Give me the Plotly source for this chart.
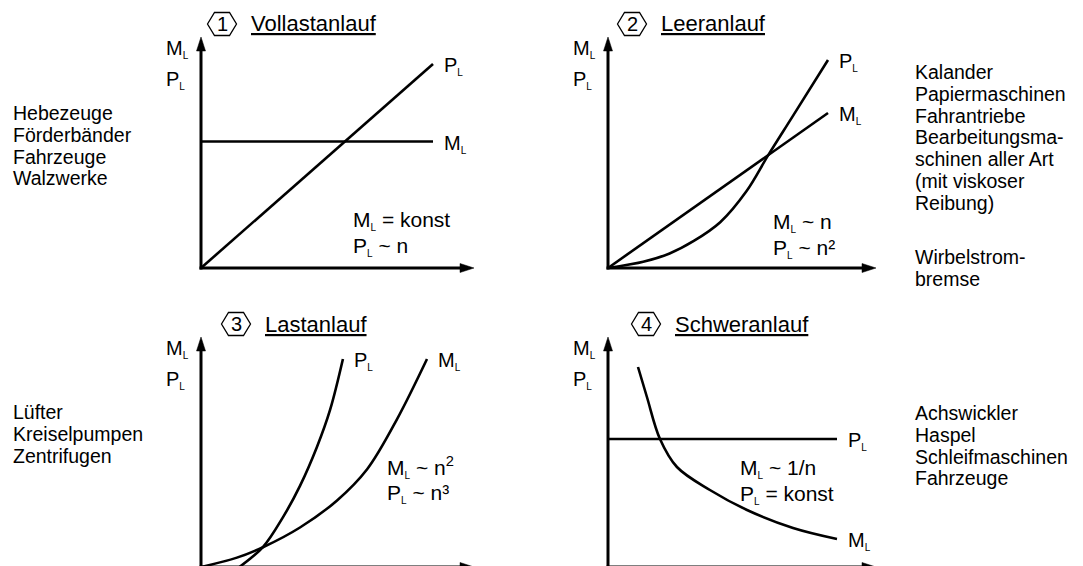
import plotly.graph_objects as go

W, H = 1083, 566

# ---------------- data ----------------
# Panel 1 : Vollastanlauf
n1 = [0, 1]
ML1 = [0.62, 0.62]
PL1 = [0, 1]
# Panel 2 : Leeranlauf
n2m = [0, 1]
ML2 = [0, 0.745]
n2p = [0, 0.16, 0.28, 0.39, 0.51, 0.63, 0.727, 0.84, 1]
PL2 = [0, 0.03, 0.07, 0.13, 0.22, 0.37, 0.54, 0.73, 1]
# Panel 3 : Lastanlauf
n3m = [0, 0.159, 0.274, 0.438, 0.602, 0.735, 0.867, 1]
ML3 = [0, 0.045, 0.095, 0.19, 0.32, 0.47, 0.71, 1]
n3p = [0.17, 0.274, 0.363, 0.438, 0.513, 0.571, 0.628]
PL3 = [0, 0.096, 0.24, 0.39, 0.577, 0.755, 1]
# Panel 4 : Schweranlauf
n4m = [0.131, 0.170, 0.227, 0.301, 0.445, 0.607, 0.808, 1]
ML4 = [1, 0.85, 0.64, 0.5, 0.385, 0.285, 0.195, 0.14]
n4p = [0, 1]
PL4 = [0.64, 0.64]

titles = ["Vollastanlauf", "Leeranlauf", "Lastanlauf", "Schweranlauf"]
numbers = ["1", "2", "3", "4"]
SUBL = "<sub><span style='font-size:10px'>L</span></sub>"
ML_T = "M" + SUBL
PL_T = "P" + SUBL
formulas = [
    [ML_T + " = konst", PL_T + " ~ n"],
    [ML_T + " ~ n", PL_T + " ~ n²"],
    [ML_T + " ~ n<sup>2</sup>", PL_T + " ~ n³"],
    [ML_T + " ~ 1/n", PL_T + " = konst"],
]
apps_left_top = ["Hebezeuge", "Förderbänder", "Fahrzeuge", "Walzwerke"]
apps_right_top_a = ["Kalander", "Papiermaschinen", "Fahrantriebe", "Bearbeitungsma-",
                    "schinen aller Art", "(mit viskoser", "Reibung)"]
apps_right_top_b = ["Wirbelstrom-", "bremse"]
apps_left_bot = ["Lüfter", "Kreiselpumpen", "Zentrifugen"]
apps_right_bot = ["Achswickler", "Haspel", "Schleifmaschinen", "Fahrzeuge"]

# ---------------- layout geometry (pixels) ----------------
FONT = "Liberation Sans, Arial, Helvetica, sans-serif"
FS = 20
# ox,oy: origin ; tx: x-arrow tip ; ty: y-arrow tip ; ex: pixel of n=1 ; ey: pixel of value 1
geo = [
    dict(ox=201, oy=268, tx=474, ty=37, ex=433, ey=64),
    dict(ox=608, oy=268, tx=876, ty=37, ex=828, ey=60),
    dict(ox=201, oy=567, tx=474, ty=337, ex=427, ey=359),
    dict(ox=608, oy=567, tx=876, ty=337, ex=837, ey=367),
]


def fx(p):
    return p / W


def fy(p):
    return 1 - p / H


fig = go.Figure()
line_style = dict(color="black", width=2.6)

series = [
    [(n1, ML1, "linear"), (n1, PL1, "linear")],
    [(n2m, ML2, "linear"), (n2p, PL2, "spline")],
    [(n3m, ML3, "spline"), (n3p, PL3, "spline")],
    [(n4m, ML4, "spline"), (n4p, PL4, "linear")],
]

shapes = []
annotations = []

for i, g in enumerate(geo):
    k = "" if i == 0 else str(i + 1)
    xr = [0, (g["tx"] - g["ox"]) / (g["ex"] - g["ox"])]
    bottom = min(g["oy"], H)
    yr = [(g["oy"] - bottom) / (g["oy"] - g["ey"]), (g["oy"] - g["ty"]) / (g["oy"] - g["ey"])]
    fig.update_layout(**{
        "xaxis" + k: dict(domain=[fx(g["ox"]), fx(g["tx"])], range=xr, visible=False,
                          anchor="y" + k, fixedrange=True),
        "yaxis" + k: dict(domain=[max(0, fy(bottom)), fy(g["ty"])], range=yr, visible=False,
                          anchor="x" + k, fixedrange=True),
    })
    for xs, ys, shp in series[i]:
        fig.add_trace(go.Scatter(x=xs, y=ys, mode="lines", line=dict(line_style, shape=shp,
                                 smoothing=1.0), xaxis="x" + k, yaxis="y" + k,
                                 hoverinfo="skip", showlegend=False))

    ox, oy, tx, ty = g["ox"], g["oy"], g["tx"], g["ty"]
    # axes lines
    shapes.append(dict(type="line", xref="paper", yref="paper", x0=fx(ox), y0=fy(oy + 1.5),
                       x1=fx(ox), y1=fy(ty + 10), line=dict(color="black", width=3)))
    shapes.append(dict(type="line", xref="paper", yref="paper", x0=fx(ox - 1.5), y0=fy(oy),
                       x1=fx(tx - 10), y1=fy(oy), line=dict(color="black", width=3)))
    # arrowheads
    shapes.append(dict(type="path", xref="paper", yref="paper",
                       path=f"M{fx(ox)},{fy(ty)} L{fx(ox - 4.5)},{fy(ty + 14)} L{fx(ox + 4.5)},{fy(ty + 14)} Z",
                       fillcolor="black", line=dict(color="black", width=0.5)))
    shapes.append(dict(type="path", xref="paper", yref="paper",
                       path=f"M{fx(tx)},{fy(oy)} L{fx(tx - 14)},{fy(oy - 4.5)} L{fx(tx - 14)},{fy(oy + 4.5)} Z",
                       fillcolor="black", line=dict(color="black", width=0.5)))
    # axis labels M_L / P_L
    for j, lab in enumerate([ML_T, PL_T]):
        annotations.append(dict(xref="paper", yref="paper", x=fx(ox - 37), y=fy(ty + 12 + 31 * j),
                                xanchor="left", yanchor="middle", showarrow=False, text=lab,
                                font=dict(size=FS, family=FONT, color="black")))
    # hexagon with number + underlined title
    cx, cy = ox + (21 if i % 2 == 0 else 24) + (14 if i >= 2 else 0), ty - 13
    hw, hh, hi = 14.5, 11.5, 7.5
    pts = [(cx - hw, cy), (cx - hi, cy - hh), (cx + hi, cy - hh), (cx + hw, cy),
           (cx + hi, cy + hh), (cx - hi, cy + hh)]
    path = "M" + " L".join(f"{fx(a)},{fy(b)}" for a, b in pts) + " Z"
    shapes.append(dict(type="path", xref="paper", yref="paper", path=path,
                       line=dict(color="black", width=1.3)))
    annotations.append(dict(xref="paper", yref="paper", x=fx(cx), y=fy(cy), xanchor="center",
                            yanchor="middle", showarrow=False, text=numbers[i],
                            font=dict(size=FS, family=FONT, color="black")))
    annotations.append(dict(xref="paper", yref="paper", x=fx(cx + 27), y=fy(cy), xanchor="left",
                            yanchor="middle", showarrow=False, text="<u>" + titles[i] + "</u>",
                            font=dict(size=22, family=FONT, color="black")))

# curve end labels (attached to the curve ends via data coordinates)
end_labels = [
    [(PL_T, n1[-1], PL1[-1]), (ML_T, n1[-1], ML1[-1])],
    [(PL_T, n2p[-1], PL2[-1]), (ML_T, n2m[-1], ML2[-1])],
    [(PL_T, n3p[-1], PL3[-1]), (ML_T, n3m[-1], ML3[-1])],
    [(PL_T, n4p[-1], PL4[-1]), (ML_T, n4m[-1], ML4[-1])],
]
for i, labs in enumerate(end_labels):
    k = "" if i == 0 else str(i + 1)
    for text, xv, yv in labs:
        annotations.append(dict(xref="x" + k, yref="y" + k, x=xv, y=yv, xanchor="left",
                                yanchor="middle", xshift=9, yshift=-2, showarrow=False, text=text,
                                font=dict(size=FS, family=FONT, color="black")))

# formula texts
formula_pos = [(351, 220), (771, 222), (385, 467), (738, 468)]
for i, (px, py) in enumerate(formula_pos):
    for j, t in enumerate(formulas[i]):
        annotations.append(dict(xref="paper", yref="paper", x=fx(px), y=fy(py + 26 * j),
                                xanchor="left", yanchor="middle", showarrow=False, text=t,
                                font=dict(size=21, family=FONT, color="black")))

# application lists
blocks = [
    (apps_left_top, 11, 113),
    (apps_right_top_a, 913, 72),
    (apps_right_top_b, 913, 257),
    (apps_left_bot, 11, 412),
    (apps_right_bot, 913, 413),
]
for lines, px, py in blocks:
    for j, t in enumerate(lines):
        annotations.append(dict(xref="paper", yref="paper", x=fx(px), y=fy(py + 21.8 * j),
                                xanchor="left", yanchor="middle", showarrow=False, text=t,
                                font=dict(size=19.5, family=FONT, color="black")))

fig.update_layout(width=W, height=H, margin=dict(l=0, r=0, t=0, b=0),
                  paper_bgcolor="white", plot_bgcolor="rgba(0,0,0,0)",
                  shapes=shapes, annotations=annotations, showlegend=False)

fig.write_html("out.html", config={"displayModeBar": False},
               post_script="document.body.style.margin='0';document.body.style.overflow='hidden';")
